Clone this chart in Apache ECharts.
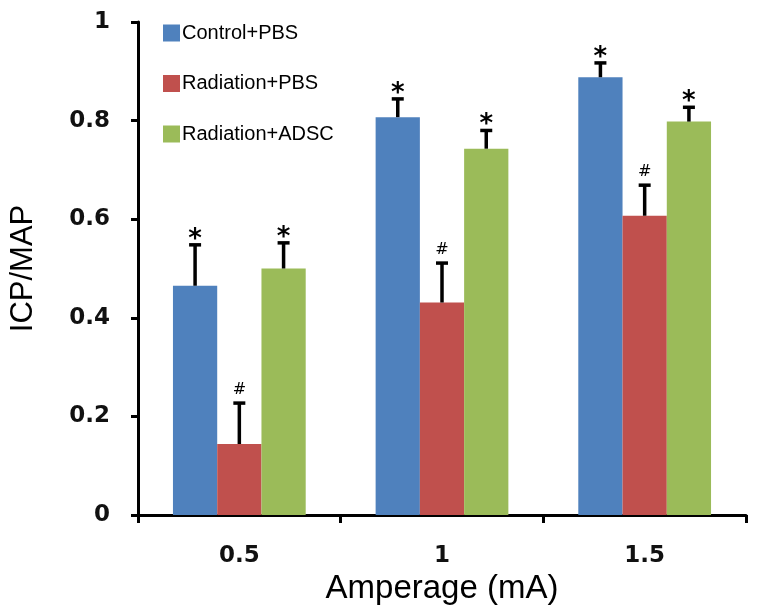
<!DOCTYPE html>
<html>
<head>
<meta charset="utf-8">
<script src="https://cdn.jsdelivr.net/npm/echarts@6/dist/echarts.min.js"></script>
<style>
html,body{margin:0;padding:0;background:#fff;}
#chart{width:758px;height:616px;}
</style>
</head>
<body>
<div id="chart"></div>
<script>
// ---- data ----
var categories = ['0.5', '1', '1.5'];
var seriesNames = ['Control+PBS', 'Radiation+PBS', 'Radiation+ADSC'];
var controlPBS = [0.465, 0.807, 0.888];
var radiationPBS = [0.144, 0.431, 0.607];
var radiationADSC = [0.500, 0.743, 0.798];
var controlPBSErr = [0.083, 0.037, 0.029];
var radiationPBSErr = [0.083, 0.080, 0.062];
var radiationADSCErr = [0.052, 0.037, 0.029];
var controlPBSMark = ['*', '*', '*'];
var radiationPBSMark = ['#', '#', '#'];
var radiationADSCMark = ['*', '*', '*'];
var yTicks = [0, 0.2, 0.4, 0.6, 0.8, 1];

var colors = ['#4F81BD', '#C0504D', '#9BBB59'];
var values = [controlPBS, radiationPBS, radiationADSC];
var errs = [controlPBSErr, radiationPBSErr, radiationADSCErr];
var marks = [controlPBSMark, radiationPBSMark, radiationADSCMark];
var CAT_GAP = 0.345;

function errSeries(k) {
  var data = categories.map(function (c, i) {
    return [i, values[k][i], errs[k][i], marks[k][i]];
  });
  return {
    type: 'custom',
    name: seriesNames[k] + ' err',
    z: 5,
    silent: true,
    data: data,
    encode: { x: 0, y: 1 },
    renderItem: function (params, api) {
      var idx = api.value(0);
      var v = api.value(1);
      var e = api.value(2);
      var mark = data[params.dataIndex][3];
      var band = api.size([1, 0])[0];
      var bw = band * (1 - CAT_GAP) / 3;
      var base = api.coord([idx, v]);
      var top = api.coord([idx, v + e]);
      var x = base[0] + (k - 1) * bw;
      var isStar = mark === '*';
      return {
        type: 'group',
        children: [
          { type: 'line', shape: { x1: x, y1: base[1], x2: x, y2: top[1] }, style: { stroke: '#000', lineWidth: 3.5 } },
          { type: 'line', shape: { x1: x - 6, y1: top[1], x2: x + 6, y2: top[1] }, style: { stroke: '#000', lineWidth: 3.5 } },
          { type: 'text', style: {
              text: mark, x: x, y: top[1] - (isStar ? 5 : 13),
              textAlign: 'center', textVerticalAlign: 'middle',
              fontFamily: 'DejaVu Sans', fontWeight: isStar ? 'bold' : 'normal',
              fontSize: isStar ? 26 : 16, fill: '#000' } }
        ]
      };
    }
  };
}

var series = [];
for (var k = 0; k < 3; k++) {
  series.push({
    type: 'bar',
    name: seriesNames[k],
    data: values[k],
    barGap: '0%',
    barCategoryGap: (CAT_GAP * 100) + '%',
    itemStyle: { color: colors[k] },
    z: 2
  });
}
for (var k2 = 0; k2 < 3; k2++) series.push(errSeries(k2));

var chart = echarts.init(document.getElementById('chart'), null, { renderer: 'canvas' });
chart.setOption({
  animation: false,
  backgroundColor: '#fff',
  grid: { left: 137, right: 12, top: 22, bottom: 101, containLabel: false },
  legend: {
    data: seriesNames.map(function (n) { return { name: n, icon: 'rect' }; }),
    orient: 'vertical',
    left: 163, top: 23, padding: 0,
    itemWidth: 17, itemHeight: 17, itemGap: 30.5,
    textStyle: { fontFamily: 'Liberation Sans', fontSize: 20, lineHeight: 17, color: '#000', padding: [0, 0, 0, -3] },
    selectedMode: false
  },
  xAxis: {
    type: 'category',
    data: categories,
    boundaryGap: true,
    name: 'Amperage (mA)',
    nameLocation: 'middle',
    nameGap: 56,
    nameTextStyle: { fontFamily: 'Liberation Sans', fontSize: 33, color: '#000' },
    axisLine: { lineStyle: { color: '#000', width: 3 } },
    axisTick: { show: true, length: 8, lineStyle: { color: '#000', width: 3 } },
    axisLabel: { margin: 30, fontFamily: 'DejaVu Sans', fontWeight: 'bold', fontSize: 23, color: '#111' }
  },
  yAxis: {
    type: 'value',
    min: yTicks[0], max: yTicks[yTicks.length - 1], interval: 0.2,
    name: 'ICP/MAP',
    nameLocation: 'middle',
    nameGap: 99,
    nameTextStyle: { fontFamily: 'Liberation Sans', fontSize: 31, color: '#000' },
    axisLine: { show: true, lineStyle: { color: '#000', width: 3 } },
    axisTick: { show: true, length: 7, lineStyle: { color: '#000', width: 3 } },
    splitLine: { show: false },
    axisLabel: { margin: 28, fontFamily: 'DejaVu Sans', fontWeight: 'bold', fontSize: 23, color: '#111' }
  },
  series: series
});
</script>
</body>
</html>
